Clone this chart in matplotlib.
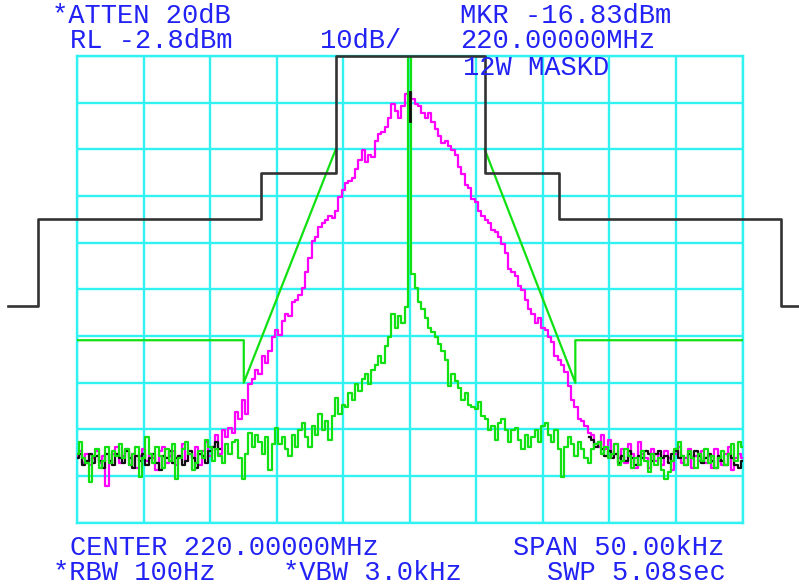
import numpy as np
import matplotlib
matplotlib.use("Agg")
import matplotlib.pyplot as plt

# ---------------- data (kHz offset from 220 MHz centre, dBm) ----------------
freq_start_khz = -25.0
freq_step_khz = 0.25

magenta_db = [
    -88.5, -87.5, -90.0, -88.0, -90.5, -89.0, -87.5, -90.0, -88.5, -95.0,
    -89.5, -88.0, -86.5, -90.0, -88.5, -87.0, -90.5, -88.0, -91.0, -88.5,
    -87.0, -89.5, -88.0, -89.0, -91.5, -87.5, -86.5, -90.0, -88.5, -87.5,
    -90.5, -88.5, -86.0, -89.5, -88.0, -89.0, -86.5, -90.5, -87.5, -85.5,
    -88.5, -86.5, -84.0, -88.0, -83.0, -84.5, -82.5, -83.5, -79.0, -80.5,
    -76.5, -79.5, -73.0, -72.0, -70.0, -71.0, -67.0, -68.5, -66.0, -63.0,
    -61.5, -62.5, -59.5, -58.0, -58.5, -55.5, -55.0, -54.0, -52.5, -49.0,
    -46.0, -42.5, -41.5, -39.5, -38.5, -38.0, -37.0, -37.5, -36.0, -33.0,
    -31.5, -30.0, -29.5, -29.0, -27.0, -25.0, -23.0, -25.5, -24.0, -24.5,
    -21.0, -19.5, -19.0, -18.0, -16.0, -13.0, -14.5, -16.0, -13.5, -11.0,
    -10.5, -12.0, -13.0, -13.5, -15.0, -16.0, -15.0, -17.0, -18.5, -20.0,
    -21.5, -21.0, -22.0, -23.0, -24.0, -26.5, -28.0, -30.5, -31.0, -33.5,
    -34.0, -36.0, -37.0, -38.0, -38.5, -40.0, -40.5, -41.5, -43.0, -45.0,
    -48.5, -49.0, -50.0, -52.0, -53.0, -55.0, -57.0, -58.0, -60.0, -59.0,
    -61.0, -61.5, -63.0, -64.0, -67.0, -68.0, -69.0, -70.5, -73.5, -76.5,
    -78.0, -80.5, -81.0, -82.0, -83.5, -84.0, -86.0, -86.5, -84.0, -87.0,
    -85.0, -88.0, -86.0, -89.0, -87.0, -90.0, -86.0, -88.0, -91.0, -85.5,
    -88.0, -89.0, -91.0, -87.0, -89.5, -88.0, -90.5, -87.5, -89.0, -91.5,
    -88.0, -86.5, -90.0, -89.0, -87.0, -91.0, -88.5, -89.5, -87.5, -90.0,
    -88.5, -91.0, -87.0, -89.5, -90.5, -88.0, -86.5, -91.5, -89.0, -88.0,
    -89.0,
]

green_db = [
    -88.0, -85.5, -89.0, -90.0, -94.0, -88.5, -87.0, -91.0, -89.5, -86.5,
    -90.0, -87.5, -88.5, -86.0, -89.0, -87.0, -90.5, -88.0, -86.5, -93.0,
    -89.0, -84.5, -88.0, -90.0, -86.5, -88.5, -91.0, -87.0, -89.5, -86.0,
    -93.5, -89.0, -87.0, -85.5, -88.0, -91.5, -90.0, -87.5, -89.0, -85.0,
    -86.5, -89.5, -87.0, -88.5, -90.0, -86.0, -88.0, -85.5, -85.0, -89.0,
    -93.5, -88.0, -83.5, -86.5, -84.0, -85.5, -88.0, -84.5, -91.5, -86.0,
    -82.5, -86.0, -84.5, -87.0, -88.5, -84.0, -86.5, -83.0, -81.5, -84.5,
    -86.5, -82.0, -84.0, -79.5, -83.0, -81.0, -85.0, -80.0, -76.0, -79.5,
    -77.5, -78.0, -75.0, -76.5, -73.0, -74.5, -72.0, -71.0, -73.0, -70.0,
    -69.0, -67.0, -68.5, -65.0, -63.0, -58.0, -61.0, -58.5, -60.0, -56.5,
    -2.8, -49.5, -52.5, -55.5, -57.0, -59.0, -61.0, -62.0, -63.0, -64.5,
    -66.0, -68.0, -73.5, -71.0, -72.5, -74.0, -76.5, -75.0, -77.5, -78.0,
    -78.5, -77.0, -80.0, -80.5, -83.0, -82.0, -85.0, -81.5, -80.5, -83.0,
    -85.5, -83.0, -82.5, -85.0, -87.0, -84.0, -86.5, -84.5, -83.0, -85.5,
    -82.0, -81.5, -84.0, -85.5, -83.0, -87.0, -93.0, -86.5, -84.5, -86.0,
    -88.5, -85.5, -87.0, -89.0, -90.0, -87.0, -86.0, -85.5, -88.0, -86.5,
    -89.0, -88.0, -86.0, -90.5, -89.5, -87.0, -88.5, -91.0, -89.0, -90.5,
    -87.5, -89.5, -92.0, -88.0, -90.5, -89.0, -91.5, -93.5, -92.0, -89.5,
    -87.0, -85.5, -88.5, -90.5, -87.5, -89.0, -91.0, -88.0, -89.5, -87.0,
    -90.0, -88.5, -91.0, -89.0, -87.5, -90.5, -88.0, -86.0, -89.5, -85.5,
    -86.5,
]

# third (black) trace, visible only in the noise floor and at the peak
black_left_db = [
    -89.0, -88.0, -90.5, -89.5, -88.0, -90.0, -88.5, -89.5, -91.0, -88.0,
    -89.5, -90.5, -88.0, -89.0, -90.0, -87.5, -89.0, -91.0, -88.5, -89.5,
    -88.0, -90.5, -89.0, -88.0, -90.0, -91.5, -88.5, -89.0, -87.5, -90.0,
    -89.0, -88.5, -90.5, -89.5, -87.5, -89.0, -91.0, -88.0, -88.5, -90.0,
    -87.5, -86.5, -85.5, -87.0,
]
black_right_start_khz = 13.5
black_right_db = [
    -84.5, -85.0, -86.5, -85.5, -87.0, -88.5, -87.5, -89.0, -88.0, -90.0,
    -88.5, -89.5, -87.5, -89.0, -90.5, -88.5, -89.0, -87.5, -88.0, -89.5,
    -88.0, -87.5, -89.0, -88.5, -90.0, -88.0, -87.5, -89.0, -88.5, -90.5,
    -88.0, -89.0, -87.5, -88.5, -90.0, -89.0, -88.0, -89.5, -91.0, -88.5,
    -89.5, -90.5, -88.0, -89.0, -90.5, -91.0, -89.5,
]
black_peak_khz = [0.0, 0.0]
black_peak_db = [-10.5, -16.8]

# limit masks (step breakpoints)
black_mask_khz = [-30.2, -27.95, -11.15, -5.56, 5.63, 11.24, 27.87, 29.25]
black_mask_db = [-56.4, -37.8, -27.9, -2.8, -27.9, -37.8, -56.4, -56.4]

green_mask_left_khz = [-25.0, -12.47, -12.47, -5.56]
green_mask_left_db = [-63.7, -63.7, -72.8, -22.8]
green_mask_right_khz = [5.63, 12.44, 12.44, 25.0]
green_mask_right_db = [-22.8, -72.8, -63.7, -63.7]

ref_level = -2.8
db_per_div = 10
span_khz = 50.0

header_texts = [
    (52, 23, "*ATTEN 20dB"),
    (70, 48, "RL -2.8dBm"),
    (320, 48, "10dB/"),
    (460, 23, "MKR -16.83dBm"),
    (460, 48, "220.00000MHz"),
    (463, 75, "12W MASKD"),
    (70, 555, "CENTER 220.00000MHz"),
    (53, 580, "*RBW 100Hz"),
    (283, 580, "*VBW 3.0kHz"),
    (513, 555, "SPAN 50.00kHz"),
    (547, 580, "SWP 5.08sec"),
]

# ---------------- drawing ----------------
W, H = 799, 588
fig = plt.figure(figsize=(W / 100, H / 100), dpi=100)
fig.patch.set_facecolor("white")

ax = fig.add_axes([77 / W, 1 - 522.7 / H, 665.5 / W, 466.7 / H])
ax.set_xlim(-span_khz / 2, span_khz / 2)
ax.set_ylim(ref_level - 10 * db_per_div, ref_level)

cyan = "#30F2F2"
ax.set_xticks(np.arange(-25, 25.01, 5))
ax.set_yticks(ref_level - db_per_div * np.arange(0, 11))
ax.grid(True, color=cyan, lw=1.7)
ax.set_axisbelow(True)
ax.tick_params(length=0, labelbottom=False, labelleft=False)
for sp in ax.spines.values():
    sp.set_color(cyan)
    sp.set_linewidth(1.7)
ax.set_facecolor("white")

freq = freq_start_khz + freq_step_khz * np.arange(len(magenta_db))

ax.plot(freq, magenta_db, color="#FF00FF", lw=1.6, drawstyle="steps-mid", zorder=3)

fb_left = freq_start_khz + freq_step_khz * np.arange(len(black_left_db))
fb_right = black_right_start_khz + freq_step_khz * np.arange(len(black_right_db))
ax.plot(fb_left, black_left_db, color="#111111", lw=1.6, drawstyle="steps-mid", zorder=4)
ax.plot(fb_right, black_right_db, color="#111111", lw=1.6, drawstyle="steps-mid", zorder=4)
ax.plot(black_peak_khz, black_peak_db, color="#111111", lw=2.0, zorder=6)

ax.plot(freq, green_db, color="#11E011", lw=1.6, drawstyle="steps-mid", zorder=5)

ax.plot(green_mask_left_khz, green_mask_left_db, color="#11E011", lw=1.6, zorder=5)
ax.plot(green_mask_right_khz, green_mask_right_db, color="#11E011", lw=1.6, zorder=5)

ax.plot(black_mask_khz, black_mask_db, color="#333333", lw=1.9,
        drawstyle="steps-post", zorder=7, clip_on=False)

blue = "#2222F5"
for x, y, s in header_texts:
    fig.text(x / W, 1 - y / H, s, color=blue, fontsize=19.5,
             family=["Liberation Mono", "DejaVu Sans Mono"], va="baseline", ha="left")

fig.savefig("out.png", dpi=100, facecolor="white")
